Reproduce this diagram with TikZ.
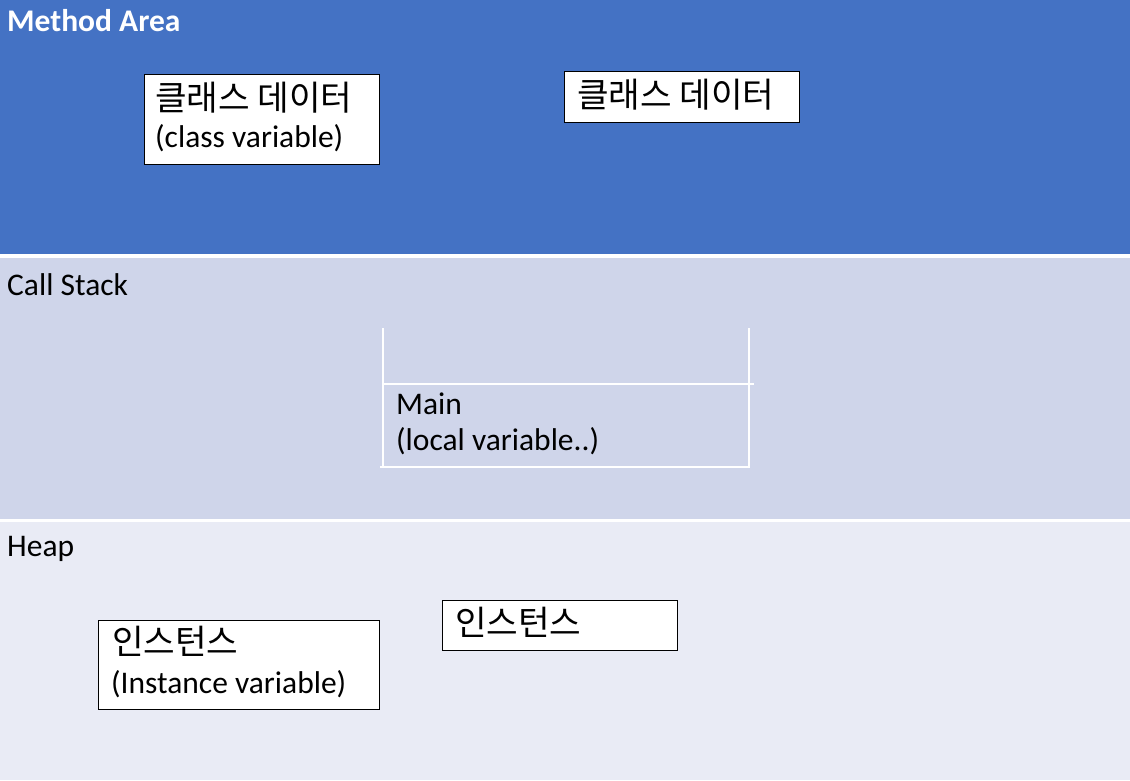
\documentclass[tikz,border=0pt]{standalone}
\usepackage{fontspec}
\setmainfont{Carlito}
\newfontfamily\kr[Scale=1.09]{Noto Sans CJK KR}
\definecolor{mablue}{HTML}{4472C4}
\definecolor{csband}{HTML}{CFD5EA}
\definecolor{hpband}{HTML}{E9EBF5}
\begin{document}
\begin{tikzpicture}[x=1pt,y=-1pt,
  box/.style={draw=black,fill=white,line width=0.9pt,anchor=north west,inner sep=0pt},
  lbl/.style={anchor=west,inner sep=0pt,font=\fontsize{31.5}{36}\selectfont},
  ttl/.style={anchor=west,inner sep=0pt,font=\fontsize{31.5}{36}\selectfont},
  stk/.style={draw=white,line width=2.6pt}]
\useasboundingbox (0,0) rectangle (1130,780);
\fill[white] (0,0) rectangle (1130,780);
\fill[mablue] (0,0) rectangle (1130,254);
\fill[csband] (0,257.5) rectangle (1130,519);
\fill[hpband] (0,521.5) rectangle (1130,780);
% titles
\node[ttl,text=white,font=\fontsize{31.5}{36}\selectfont\bfseries] (tma) at (7,21) {Method Area};
\node[ttl] (tcs) at (7,285) {Call Stack};
\node[ttl] (thp) at (7,549) {Heap};
% method area boxes
\node[box,minimum width=235,minimum height=90] (cd1) at (144,74) {};
\node[lbl] (cd1a) at (155,98) {\kr 클래스 데이터};
\node[lbl] (cd1b) at (155,138) {(class variable)};
\node[box,minimum width=235,minimum height=51] (cd2) at (564,71) {};
\node[lbl] (cd2a) at (577,95) {\kr 클래스 데이터};
% call stack
\coordinate (s1) at (383,328);
\coordinate (s2) at (383,468);
\coordinate (s3) at (749,328);
\coordinate (s4) at (749,468);
\coordinate (h1) at (383,384);
\coordinate (h2) at (754,384);
\coordinate (b1) at (380,467);
\coordinate (b2) at (750,467);
\draw[stk] (s1) -- (s2);
\draw[stk] (s3) -- (s4);
\draw[stk] (h1) -- (h2);
\draw[stk] (b1) -- (b2);
\node[lbl] (mn1) at (396,404) {Main};
\node[lbl] (mn2) at (396,441) {(local variable..)};
% heap
\node[box,minimum width=281,minimum height=89] (in1) at (98,620) {};
\node[lbl] (in1a) at (112,641) {\kr 인스턴스};
\node[lbl] (in1b) at (111,684) {(Instance variable)};
\node[box,minimum width=235,minimum height=50] (in2) at (442,600) {};
\node[lbl] (in2a) at (455,622) {\kr 인스턴스};
\end{tikzpicture}
\end{document}
